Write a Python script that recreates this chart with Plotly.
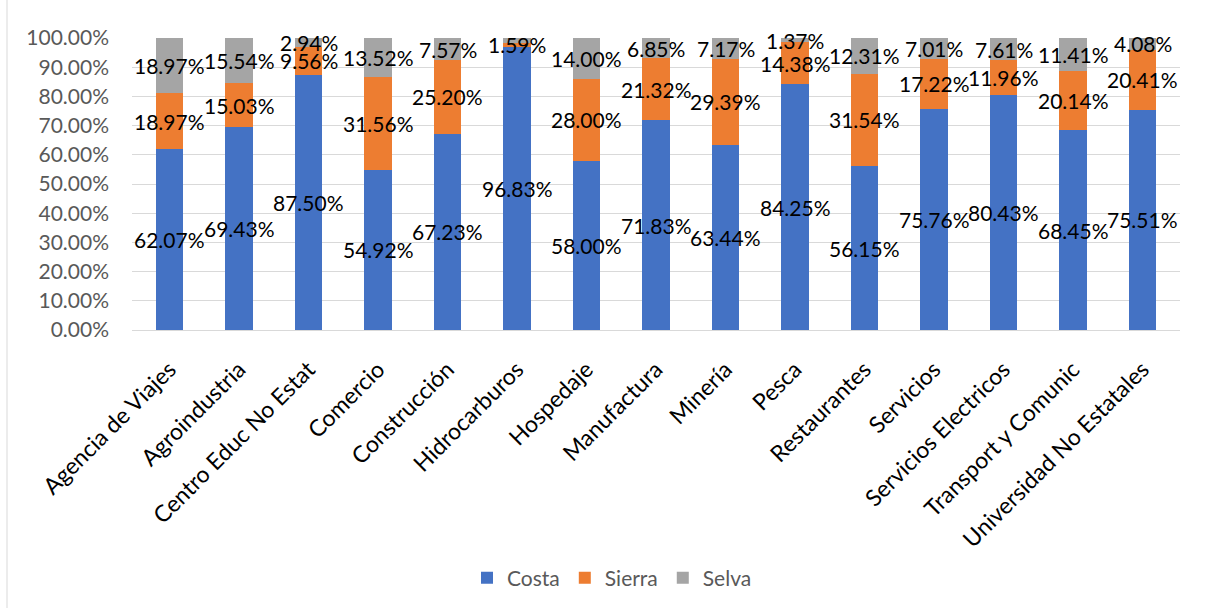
import plotly.graph_objects as go

categories = ["Agencia de Viajes", "Agroindustria", "Centro Educ No Estat", "Comercio",
              "Construcción", "Hidrocarburos", "Hospedaje", "Manufactura", "Minería",
              "Pesca", "Restaurantes", "Servicios", "Servicios Electricos",
              "Transport y Comunic", "Universidad No Estatales"]
costa = [62.07, 69.43, 87.50, 54.92, 67.23, 96.83, 58.00, 71.83, 63.44, 84.25, 56.15, 75.76, 80.43, 68.45, 75.51]
sierra = [18.97, 15.03, 9.56, 31.56, 25.20, 1.59, 28.00, 21.32, 29.39, 14.38, 31.54, 17.22, 11.96, 20.14, 20.41]
selva = [18.97, 15.54, 2.94, 13.52, 7.57, 1.59, 14.00, 6.85, 7.17, 1.37, 12.31, 7.01, 7.61, 11.41, 4.08]
# label hidden in the reference (overlaps the Sierra label)
selva_hidden = ["Hidrocarburos"]
y_ticks = list(range(0, 101, 10))

FONT = "Lato, Calibri, sans-serif"
W, H = 1205, 608
L, R, T, B = 132, 25, 38, 278

series = [("Costa", costa, "#4472C4", ()),
          ("Sierra", sierra, "#ED7D31", ()),
          ("Selva", selva, "#A5A5A5", selva_hidden)]

fig = go.Figure()
base = [0.0] * len(categories)
annotations = []
for name, vals, color, hidden in series:
    fig.add_trace(go.Bar(
        name=name, x=categories, y=vals, marker=dict(color=color, line=dict(width=0)),
        hoverinfo="name+y",
    ))
    for i, (c, v) in enumerate(zip(categories, vals)):
        if c not in hidden:
            annotations.append(dict(
                x=c, y=base[i] + v / 2, xref="x", yref="y", text=f"{v:.2f}%",
                showarrow=False, xanchor="center", yanchor="middle",
                font=dict(family=FONT, size=21, color="#000000")))
        base[i] += v

ph = H - T - B
pw = W - L - R
fig.update_layout(
    barmode="stack", bargap=0.6,
    width=W, height=H,
    margin=dict(l=L, r=R, t=T, b=B, autoexpand=False),
    paper_bgcolor="white", plot_bgcolor="white",
    font=dict(family=FONT, size=20, color="#595959"),
    xaxis=dict(tickangle=-45, tickfont=dict(size=23, color="#000000"),
               showgrid=False, showline=True, linecolor="#D9D9D9", linewidth=1,
               ticks="", ticklabelstandoff=16),
    yaxis=dict(range=[0, 100], tickvals=y_ticks, ticktext=[f"{v:.2f}%" for v in y_ticks],
               showgrid=True, gridcolor="#D9D9D9", gridwidth=1, zeroline=False,
               tickfont=dict(size=21, color="#595959"), ticks="", showline=False,
               ticklabelstandoff=22),
    legend=dict(orientation="h", x=(612 - L) / pw, xanchor="center",
                y=-(578 - (T + ph)) / ph, yanchor="middle",
                font=dict(size=21, color="#595959"), traceorder="normal",
                itemwidth=30),
    annotations=annotations,
    shapes=[dict(type="line", xref="paper", yref="paper",
                 x0=(7 - L) / pw, x1=(7 - L) / pw,
                 y0=-(H - T - ph) / ph, y1=(T + ph) / ph,
                 line=dict(color="#D9D9D9", width=1))],
)

fig.write_html("out.html")
